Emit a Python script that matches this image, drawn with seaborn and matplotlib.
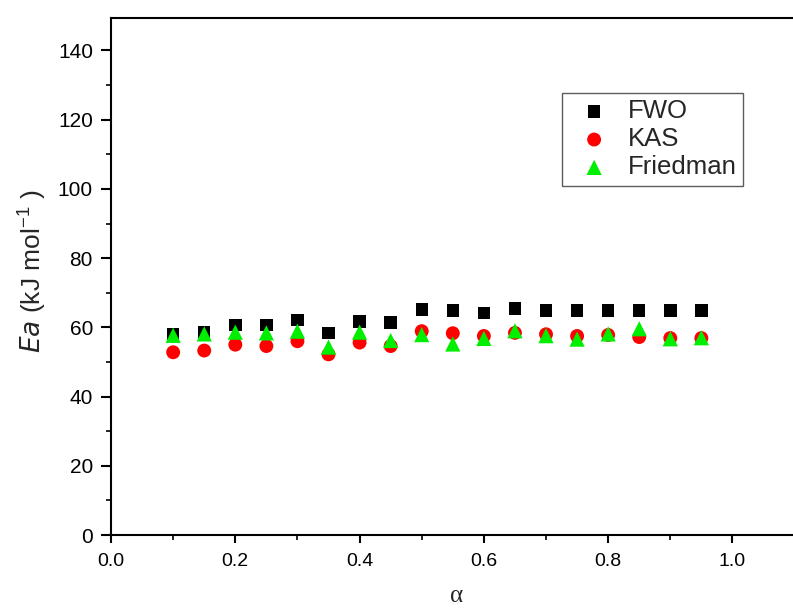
import matplotlib
matplotlib.use("Agg")
import matplotlib.pyplot as plt
import seaborn as sns
import pandas as pd
from matplotlib.ticker import MultipleLocator, FormatStrFormatter

alpha = [0.10, 0.15, 0.20, 0.25, 0.30, 0.35, 0.40, 0.45, 0.50, 0.55,
         0.60, 0.65, 0.70, 0.75, 0.80, 0.85, 0.90, 0.95]
fwo = [58.0, 58.6, 60.6, 60.6, 62.1, 58.3, 61.7, 61.4, 65.2, 64.9,
       64.2, 65.4, 64.9, 64.9, 64.9, 64.9, 64.9, 64.9]
kas = [52.8, 53.3, 55.0, 54.6, 56.0, 52.2, 55.6, 54.6, 58.9, 58.3,
       57.5, 58.4, 58.0, 57.5, 57.8, 57.2, 56.9, 56.9]
friedman = [57.7, 58.1, 58.6, 58.4, 58.9, 54.3, 58.6, 56.2, 57.9, 55.2,
            56.8, 59.0, 57.6, 56.6, 58.1, 59.6, 56.7, 57.0]

sns.set_style("ticks")
plt.rcParams['font.family'] = ['Liberation Sans', 'DejaVu Sans']

fig = plt.figure(figsize=(7.93, 6.08), dpi=100)
ax = fig.add_axes([0.140, 0.120, 0.862, 0.850])

series = [("FWO", fwo, "s", "black", 80),
          ("KAS", kas, "o", "red", 100),
          ("Friedman", friedman, "^", "#00ee00", 120)]
for name, vals, mk, col, size in series:
    df = pd.DataFrame({"alpha": alpha, "Ea": vals})
    sns.scatterplot(data=df, x="alpha", y="Ea", marker=mk, color=col, s=size,
                    edgecolor="none", linewidth=0, label=name, ax=ax, legend=False)

ax.set_xlim(0, 1.1)
ax.set_ylim(0, 149.3)
ax.xaxis.set_major_locator(MultipleLocator(0.2))
ax.xaxis.set_minor_locator(MultipleLocator(0.1))
ax.xaxis.set_major_formatter(FormatStrFormatter("%.1f"))
ax.yaxis.set_major_locator(MultipleLocator(20))
ax.yaxis.set_minor_locator(MultipleLocator(10))

for s in ["left", "bottom", "top"]:
    ax.spines[s].set_visible(True)
    ax.spines[s].set_linewidth(1.5)
    ax.spines[s].set_color("black")
ax.spines["right"].set_visible(False)

ax.tick_params(which="minor", direction="out", length=3.5, width=1.2, colors="black")
ax.tick_params(axis="x", which="major", direction="out", length=6, width=1.5,
               colors="black", labelsize=14, pad=7)
ax.tick_params(axis="y", which="major", direction="out", length=7.5, width=1.5,
               colors="black", labelsize=15, pad=5.5)

ax.set_xlabel("α", fontsize=18, family=["Liberation Serif", "DejaVu Serif"])
ax.xaxis.set_label_coords(0.506, -0.118)
ax.xaxis.label.set_verticalalignment("center")
ax.set_ylabel(r"$\mathit{Ea}$ (kJ mol$^{\mathregular{-1}}$ )", fontsize=19)
ax.yaxis.set_label_coords(-0.092, 0.51)

leg = ax.legend(loc="upper left", bbox_to_anchor=(562 / 793, 1 - 93 / 608),
                bbox_transform=fig.transFigure, frameon=True,
                fontsize=18.5, handletextpad=0.3, borderpad=0.25, labelspacing=0.15,
                fancybox=False, handlelength=2.0, borderaxespad=0)
leg.get_frame().set_edgecolor("#333333")
leg.get_frame().set_linewidth(1.0)

fig.savefig("out.png", dpi=100)
